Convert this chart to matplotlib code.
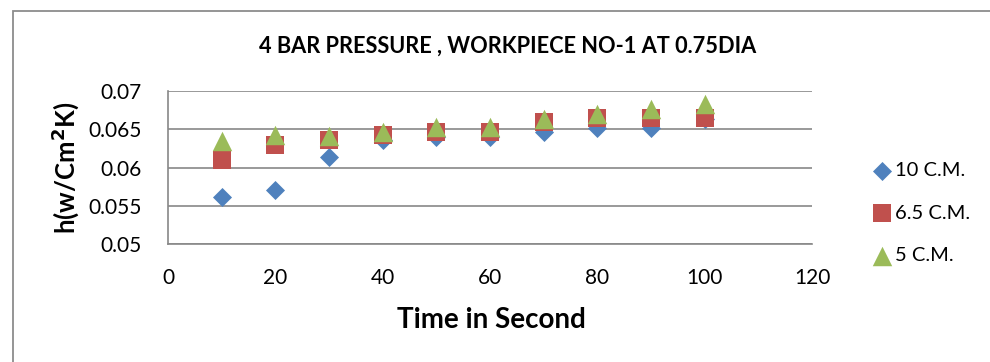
import matplotlib
matplotlib.use("Agg")
import matplotlib.pyplot as plt
from matplotlib.patches import Rectangle

plt.rcParams['font.family'] = ['Lato', 'DejaVu Sans']

# data
time_s = [10, 20, 30, 40, 50, 60, 70, 80, 90, 100]
h_10cm = [0.0562, 0.0570, 0.0614, 0.0636, 0.0640, 0.0640, 0.0646, 0.0652, 0.0652, 0.0663]
h_65cm = [0.0610, 0.0630, 0.0636, 0.0642, 0.0647, 0.0647, 0.0659, 0.0665, 0.0665, 0.0665]
h_5cm = [0.0635, 0.0642, 0.0641, 0.0647, 0.0653, 0.0653, 0.0664, 0.0670, 0.0677, 0.0683]
series_names = ["10 C.M.", "6.5 C.M.", "5 C.M."]
x_ticks = [0, 20, 40, 60, 80, 100, 120]
y_ticks = [0.05, 0.055, 0.06, 0.065, 0.07]
y_tick_labels = ["0.05", "0.055", "0.06", "0.065", "0.07"]

W, H = 990, 362
fig = plt.figure(figsize=(W / 100, H / 100), dpi=100)

# chart area outline (runs off right/bottom edge like the screenshot)
fig.patches.append(Rectangle((12.5 / W, -0.1), 1.2, 1 - 10.5 / H + 0.1,
                             transform=fig.transFigure, fill=False,
                             edgecolor='#8c8c8c', lw=1.3))

ax = fig.add_axes([168 / W, 1 - 244 / H, (812 - 168) / W, (244 - 91) / H])

grey = '#888888'
ax.scatter(time_s, h_10cm, marker='D', s=9.7 ** 2, color='#4F81BD', label=series_names[0], zorder=3, linewidths=0)
ax.scatter(time_s, h_65cm, marker='s', s=13.5 ** 2, color='#C0504D', label=series_names[1], zorder=4, linewidths=0)
ax.scatter(time_s, h_5cm, marker='^', s=14 ** 2, color='#9BBB59', label=series_names[2], zorder=5, linewidths=0)

ax.set_xlim(0, 120)
ax.set_ylim(0.05, 0.07)
ax.set_xticks(x_ticks)
ax.set_yticks(y_ticks)
ax.set_yticklabels(y_tick_labels)
ax.tick_params(length=0, labelsize=15, colors='black')
ax.tick_params(axis='y', pad=19)
ax.tick_params(axis='x', pad=17)
ax.grid(axis='y', color=grey, lw=1.2)
ax.set_axisbelow(True)
for side in ['top', 'right']:
    ax.spines[side].set_visible(False)
for side in ['left', 'bottom']:
    ax.spines[side].set_color(grey)
    ax.spines[side].set_linewidth(1.2)

fig.text(508 / W, 1 - 46 / H, "4 BAR PRESSURE , WORKPIECE NO-1 AT 0.75DIA",
         ha='center', va='center', fontsize=15.7, fontweight='bold')
fig.text(491 / W, 1 - 320 / H, "Time in Second", ha='center', va='center',
         fontsize=20, fontweight='bold')
fig.text(65 / W, 1 - 168 / H, "h(w/Cm$^{\\mathbf{2}}$K)", ha='center', va='center',
         rotation=90, fontsize=18.5, fontweight='bold')

ax.legend(loc='center left', bbox_to_anchor=(860 / W, 1 - 213 / H),
          bbox_transform=fig.transFigure, frameon=False, fontsize=14.5,
          handletextpad=0.05, handlelength=1.2, labelspacing=1.25, borderpad=0)

fig.savefig("out.png", dpi=100)
